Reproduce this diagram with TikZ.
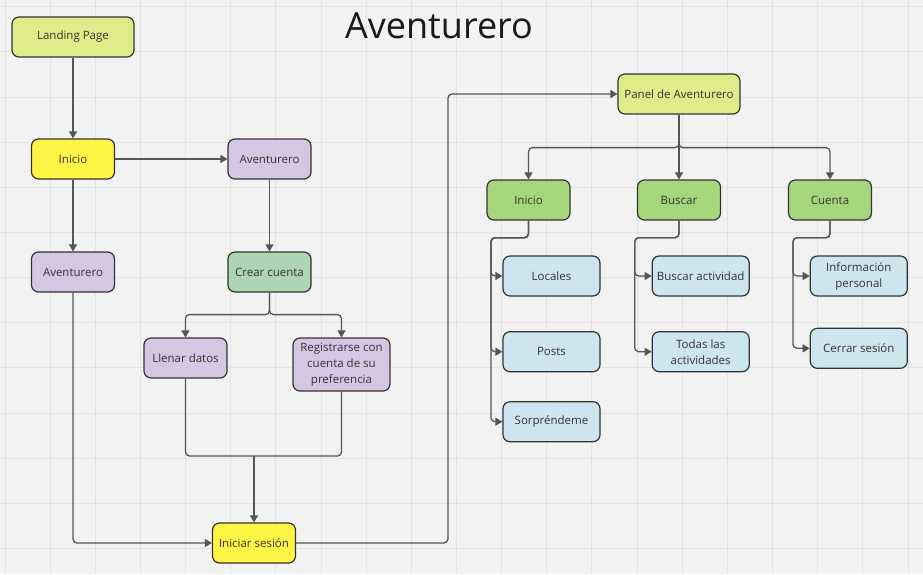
\documentclass[tikz,border=0pt]{standalone}
\usepackage{fontspec}
\setmainfont{Open Sans}
\usetikzlibrary{arrows.meta}
\definecolor{bg}{HTML}{F2F2F2}
\definecolor{gridc}{HTML}{E3E3E3}
\definecolor{edge}{HTML}{333333}
\definecolor{conn}{HTML}{555555}
\definecolor{txt}{HTML}{333333}
\definecolor{lime}{HTML}{E0EC8A}
\definecolor{yel}{HTML}{FFF445}
\definecolor{lila}{HTML}{D5C7E4}
\definecolor{sage}{HTML}{ADD4B3}
\definecolor{grn}{HTML}{A6D67C}
\definecolor{sky}{HTML}{CCE5EE}
\tikzset{
  box/.style={draw=edge, line width=1.2pt, rounded corners=7pt, align=center,
    font=\fontsize{11.5}{16}\selectfont, text=txt, inner sep=0pt},
  wide/.style={box, minimum width=122pt, minimum height=40pt},
  mid/.style={box, minimum width=83pt, minimum height=40pt},
  leaf/.style={box, minimum width=97pt, minimum height=40pt},
  link/.style={draw=conn, line width=1.3pt, rounded corners=4pt},
  arr/.style={link, -{Triangle[length=7pt,width=8pt]}},
}
\begin{document}
\begin{tikzpicture}[x=1pt,y=-1pt]
\useasboundingbox (0,0) rectangle (923,574);
\fill[bg] (0,0) rectangle (923,574);
\foreach \k in {0,...,20} {
  \draw[gridc, line width=1pt] ({5+45.15*\k},0) -- ({5+45.15*\k},574);
}
\foreach \k in {0,...,12} {
  \draw[gridc, line width=1pt] (0,{6.7+45.15*\k}) -- (923,{6.7+45.15*\k});
}
\node[anchor=base, font=\fontsize{36}{40}\selectfont, text=black!90] (title) at (439,38.3) {Aventurero};

% left part
\node[wide, fill=lime] (lp) at (73,37) {Landing Page};
\node[mid, fill=yel] (in1) at (73,159) {Inicio};
\node[mid, fill=lila] (av1) at (269.5,159) {Aventurero};
\node[mid, fill=lila] (av2) at (73,272) {Aventurero};
\node[mid, fill=sage] (cc) at (269.5,272) {Crear cuenta};
\node[mid, fill=lila] (ll) at (185.5,358) {Llenar datos};
\node[box, fill=lila, minimum width=97pt, minimum height=53pt] (rg) at (341.5,364.5) {Registrarse con\\cuenta de su\\preferencia};
\node[mid, fill=yel] (is) at (254,543) {Iniciar sesión};

% right part
\node[wide, fill=lime] (pa) at (679,94) {Panel de Aventurero};
\node[mid, fill=grn] (in2) at (528.5,200) {Inicio};
\node[mid, fill=grn] (bu) at (679,200) {Buscar};
\node[mid, fill=grn] (cu) at (830,200) {Cuenta};
\node[leaf, fill=sky] (lo) at (551.5,276) {Locales};
\node[leaf, fill=sky] (po) at (551.5,351.7) {Posts};
\node[leaf, fill=sky] (so) at (551.5,421.7) {Sorpréndeme};
\node[leaf, fill=sky] (ba) at (700.7,276) {Buscar actividad};
\node[leaf, fill=sky] (ta) at (700.7,351.7) {Todas las\\actividades};
\node[leaf, fill=sky] (ip) at (858.8,276) {Información\\personal};
\node[leaf, fill=sky] (cs) at (858.8,348.3) {Cerrar sesión};

% coordinates
\coordinate (m) at (254,456);
\coordinate (up) at (448,300);
\coordinate (t1) at (491,237.7);
\coordinate (t2) at (634.7,237.7);
\coordinate (t3) at (793,237.7);

% connectors left
\draw[arr] (lp) -- (in1);
\draw[arr] (in1) -- (av1);
\draw[arr] (in1) -- (av2);
\draw[arr] (av1) -- (cc);
\draw[arr] (cc.south) -- ++(0,22) -| (ll.north);
\draw[arr] (cc.south) -- ++(0,22) -| (rg.north);
\draw[link] (ll.south) |- (m);
\draw[link] (rg.south) |- (m);
\draw[arr] (m) -- (is.north);
\draw[arr] (av2.south) |- (is.west);
\draw[arr] (is.east) -| (up) |- (pa.west);

% connectors right
\draw[arr] (pa.south) -- ++(0,33) -| (in2.north);
\draw[arr] (pa.south) -- (bu.north);
\draw[arr] (pa.south) -- ++(0,33) -| (cu.north);
\draw[arr] (in2.south) |- (t1) |- (lo.west);
\draw[arr] (in2.south) |- (t1) |- (po.west);
\draw[arr] (in2.south) |- (t1) |- (so.west);
\draw[arr] (bu.south) |- (t2) |- (ba.west);
\draw[arr] (bu.south) |- (t2) |- (ta.west);
\draw[arr] (cu.south) |- (t3) |- (ip.west);
\draw[arr] (cu.south) |- (t3) |- (cs.west);
\end{tikzpicture}
\end{document}
